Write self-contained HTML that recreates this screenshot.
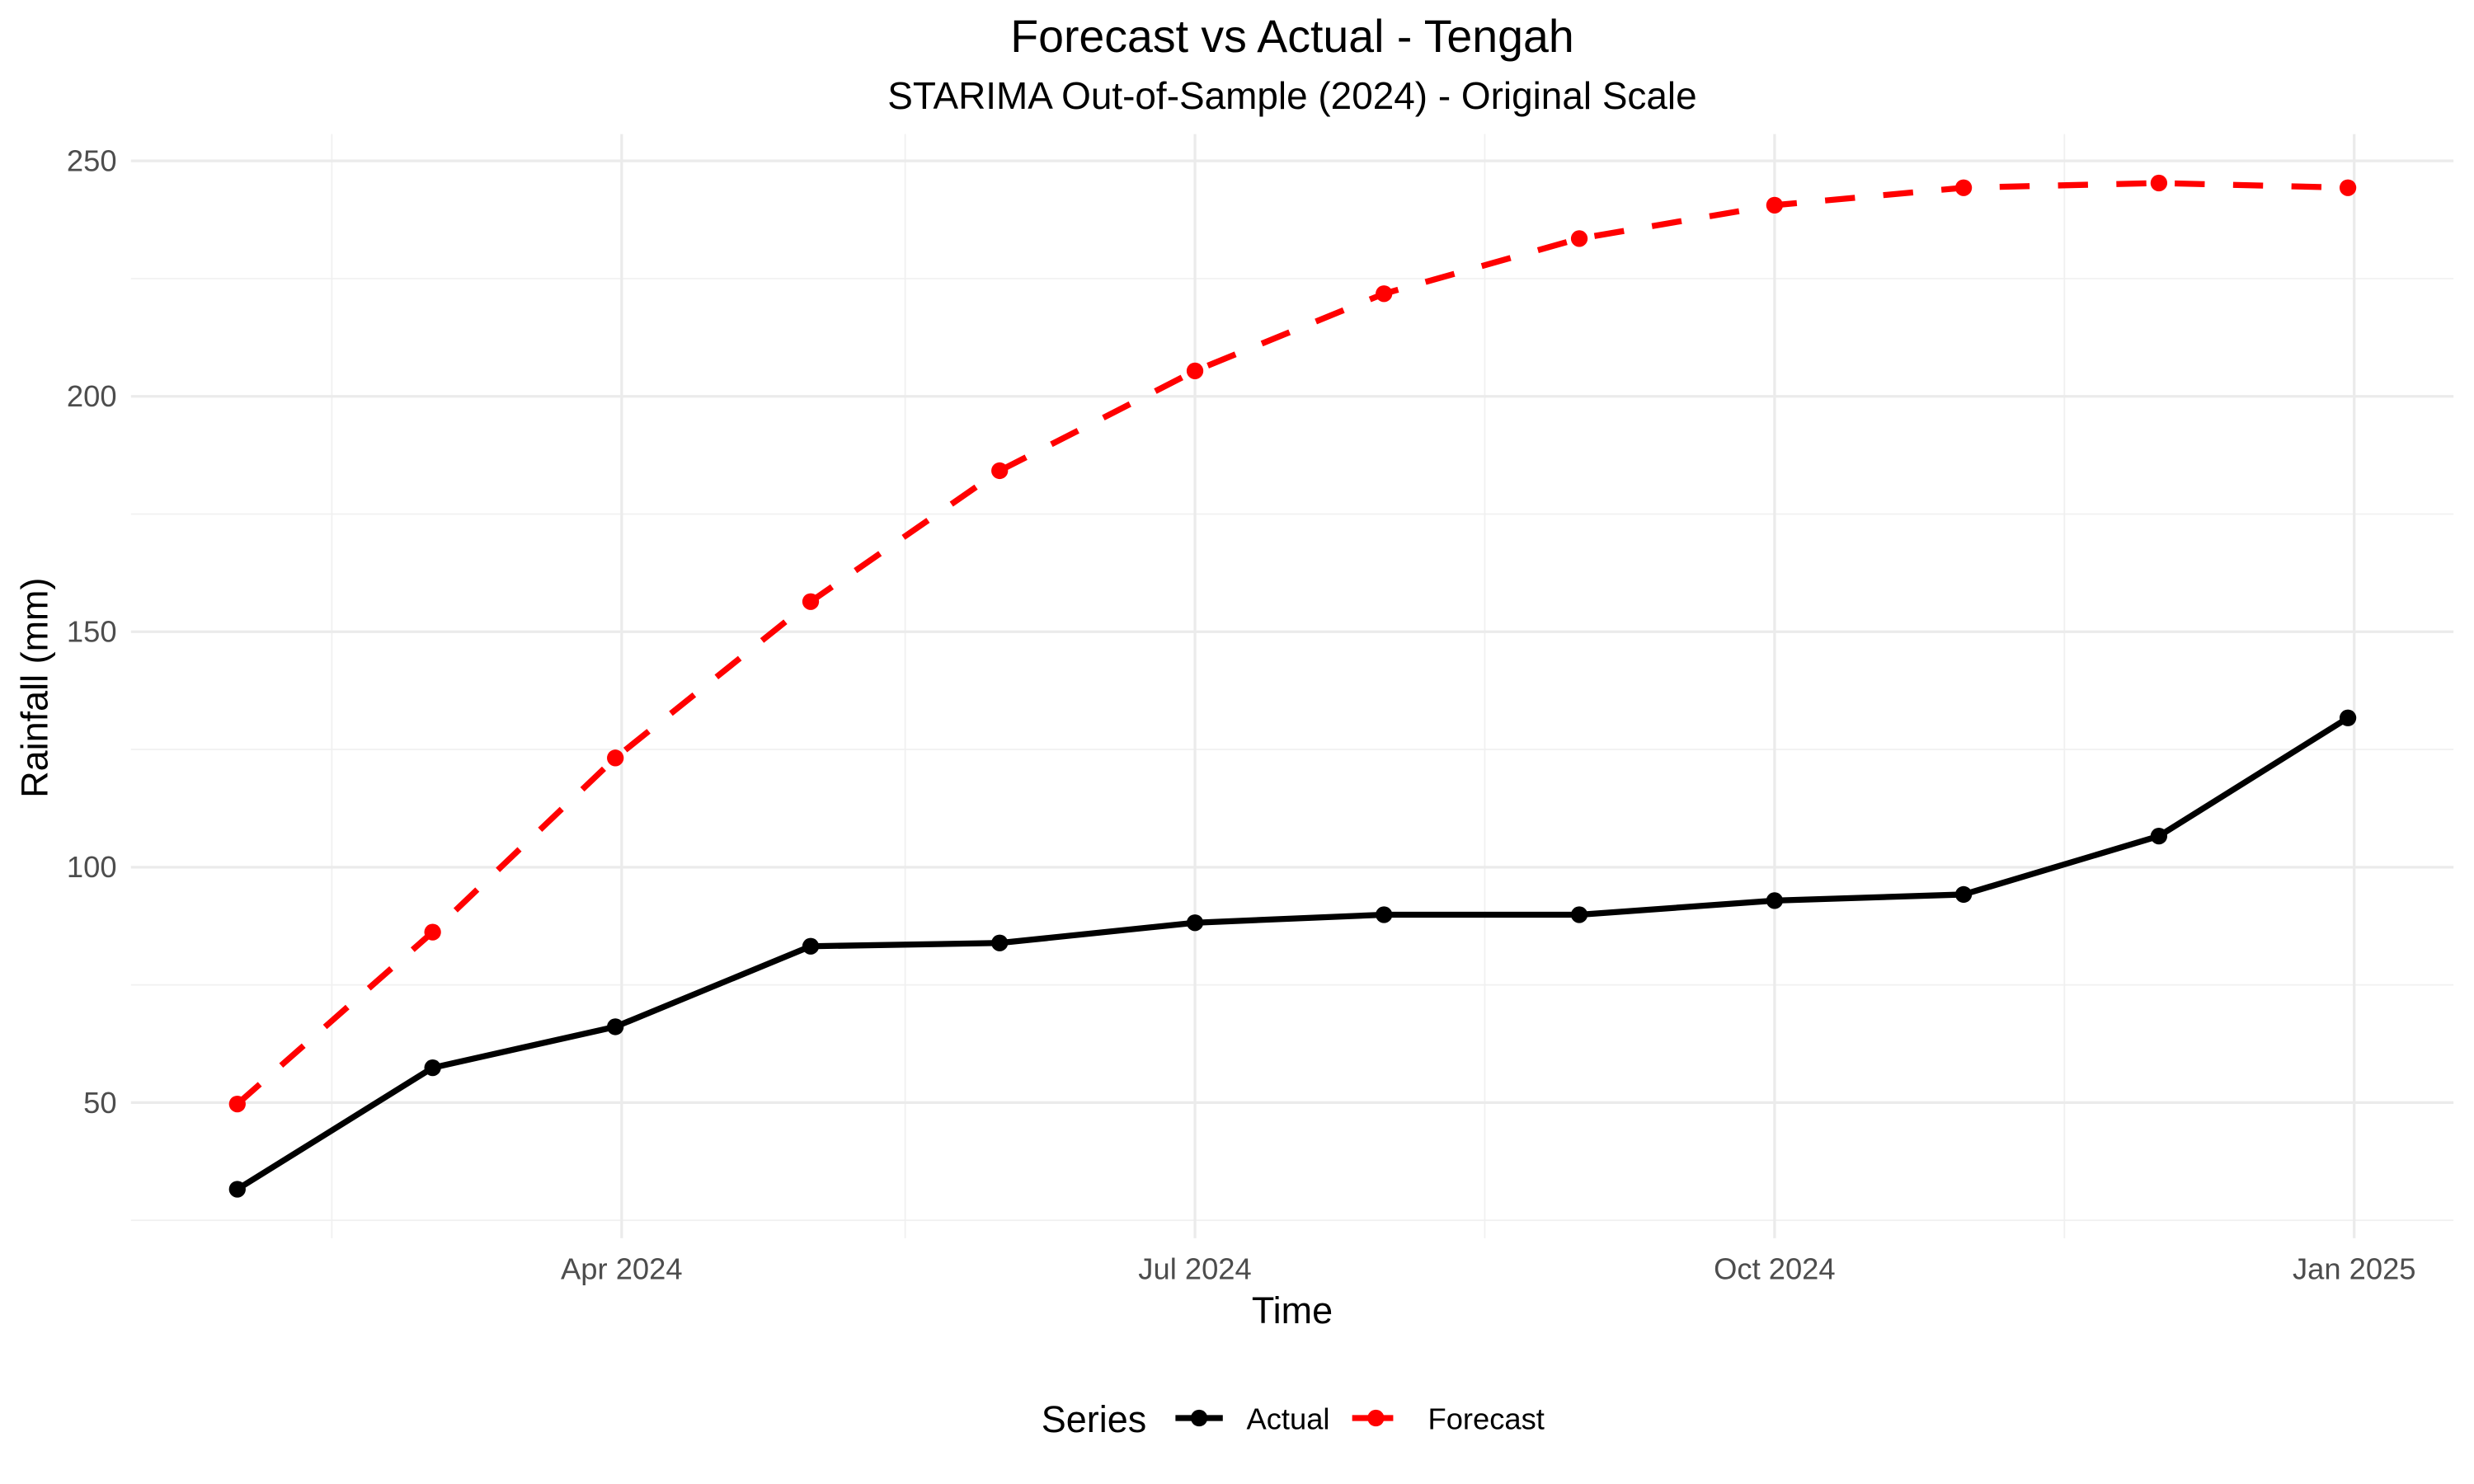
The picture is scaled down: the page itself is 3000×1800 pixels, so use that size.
<!DOCTYPE html>
<html><head><meta charset="utf-8"><style>
html,body{margin:0;padding:0;background:#fff;}
svg{display:block;font-family:"Liberation Sans",Arial,sans-serif;}
</style></head><body>
<svg id="chart" width="3000" height="1800" viewBox="0 0 1568 940.8" xmlns="http://www.w3.org/2000/svg">
<rect x="0" y="0" width="1568" height="940.8" fill="#fff"/>
<g id="grid"></g>
<g id="axes"></g>
<g id="series"></g>
<text x="819" y="33" text-anchor="middle" font-size="29" fill="#000">Forecast vs Actual - Tengah</text>
<text x="819" y="69" text-anchor="middle" font-size="24" fill="#000">STARIMA Out-of-Sample (2024) - Original Scale</text>
<text x="819" y="839" text-anchor="middle" font-size="23.5" fill="#000">Time</text>
<text transform="translate(30,436) rotate(-90)" text-anchor="middle" font-size="23.5" fill="#000">Rainfall (mm)</text>
<g>
<text x="660" y="908" font-size="23.5" fill="#000">Series</text>
<g>
<line x1="745" y1="899" x2="775" y2="899" stroke="#000" stroke-width="3.8"/>
<circle cx="760" cy="899" r="5.3" fill="#000"/>
<text x="790" y="906" font-size="19" fill="#000">Actual</text>
</g>
<g>
<line x1="857" y1="899" x2="887" y2="899" stroke="#ff0000" stroke-width="3.8" stroke-dasharray="11,4,11"/>
<circle cx="872" cy="899" r="5.3" fill="#ff0000"/>
<text x="905" y="906" font-size="19" fill="#000">Forecast</text>
</g>
</g>
</svg>
<script>
const dates = ["2024-01-31","2024-03-02","2024-03-31","2024-05-01","2024-05-31","2024-07-01","2024-07-31","2024-08-31","2024-10-01","2024-10-31","2024-12-01","2024-12-31"];
const actualValues = [31.6, 57.4, 66.1, 83.2, 83.9, 88.2, 89.9, 89.9, 92.9, 94.2, 106.6, 131.7];
const forecastValues = [49.7, 86.2, 123.2, 156.4, 184.2, 205.4, 221.8, 233.5, 240.6, 244.3, 245.3, 244.3];
const yTicks = [50, 100, 150, 200, 250];
const yMinor = [25, 75, 125, 175, 225];
const xTickDates = ["2024-04-01","2024-07-01","2024-10-01","2025-01-01"];
const xTickLabels = ["Apr 2024","Jul 2024","Oct 2024","Jan 2025"];
const xMinorDates = ["2024-02-15","2024-05-16","2024-08-16","2024-11-16"];

const NS = "http://www.w3.org/2000/svg";
const day0 = Date.UTC(2024,3,1);
function xScale(d){const t=Date.parse(d+"T00:00:00Z");return 394+(t-day0)/86400000*3.993;}
function yScale(v){return 699-(v-50)*2.985;}
const PL=83, PR=1555, PT=85, PB=785;
function mk(tag, attrs, parent){const e=document.createElementNS(NS,tag);for(const k in attrs)e.setAttribute(k,attrs[k]);parent.appendChild(e);return e;}
const grid=document.getElementById('grid'), axes=document.getElementById('axes'), series=document.getElementById('series');

yMinor.forEach(v=>{const l=mk('line',{x1:PL,x2:PR,y1:yScale(v),y2:yScale(v),stroke:'#f0f0f0','stroke-width':0.9},grid);

});
xMinorDates.forEach(d=>{const l=mk('line',{x1:xScale(d),x2:xScale(d),y1:PT,y2:PB,stroke:'#f0f0f0','stroke-width':0.9},grid);

});
yTicks.forEach(v=>{const l=mk('line',{x1:PL,x2:PR,y1:yScale(v),y2:yScale(v),stroke:'#ebebeb','stroke-width':1.7},grid);


const t=mk('text',{x:74,y:yScale(v)+6.5,'text-anchor':'end','font-size':19,fill:'#4d4d4d'},axes);t.textContent=v;

});
xTickDates.forEach((d,i)=>{const l=mk('line',{x1:xScale(d),x2:xScale(d),y1:PT,y2:PB,stroke:'#ebebeb','stroke-width':1.7},grid);


const t=mk('text',{x:xScale(d),y:811,'text-anchor':'middle','font-size':19,fill:'#4d4d4d'},axes);t.textContent=xTickLabels[i];

});

function drawSeries(vals,color,dash,name){
 const pts=dates.map((d,i)=>xScale(d)+','+yScale(vals[i])).join(' ');
 const pl=mk('polyline',{points:pts,fill:'none',stroke:color,'stroke-width':3.8,'stroke-linejoin':'round'},series);
 if(dash)pl.setAttribute('stroke-dasharray',dash);
 
 
 dates.forEach((d,i)=>{const c=mk('circle',{cx:xScale(d),cy:yScale(vals[i]),r:5.3,fill:color},series);
 
 });
}
drawSeries(forecastValues,'#ff0000','19,18','forecast');
drawSeries(actualValues,'#000000',null,'actual');
</script>
</body></html>
